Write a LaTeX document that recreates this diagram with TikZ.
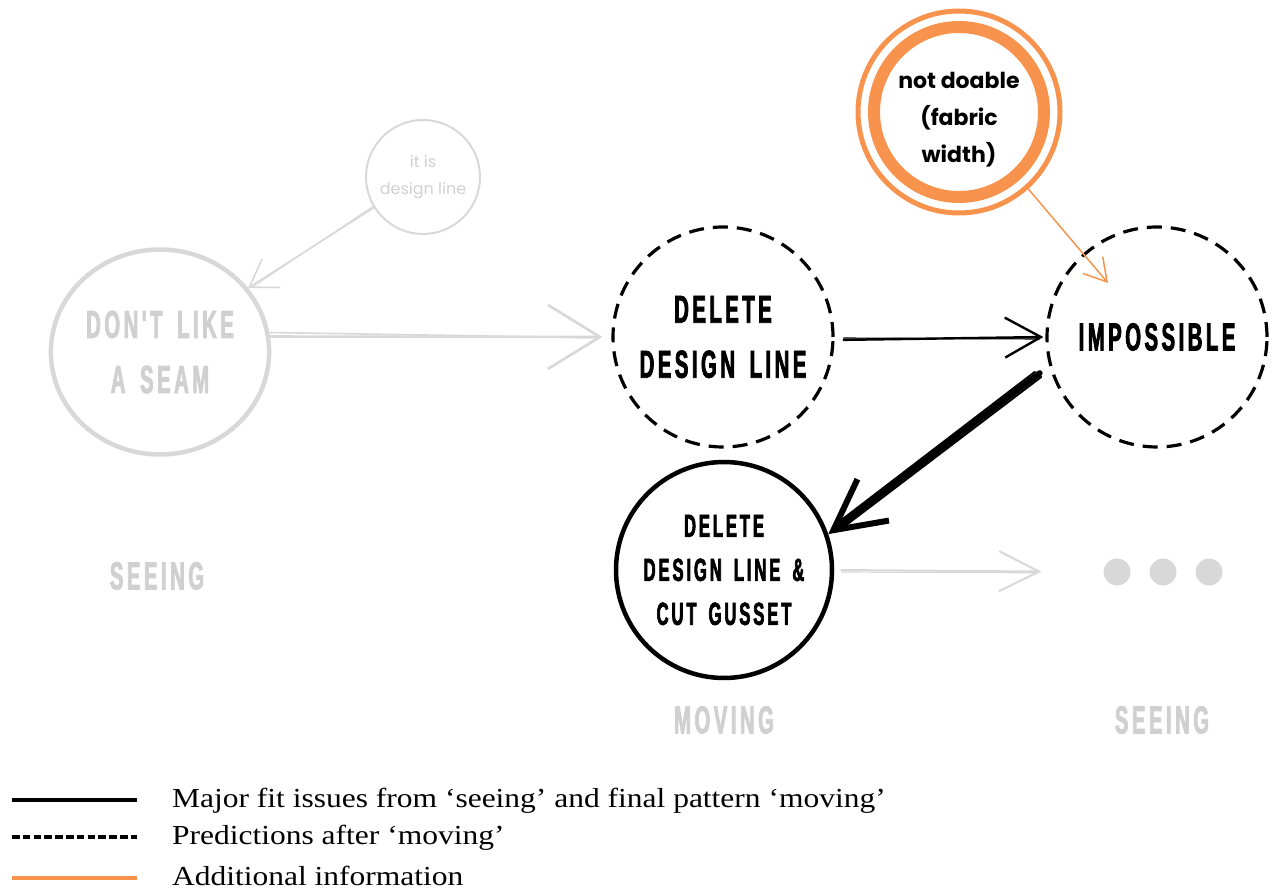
\documentclass[tikz,border=0pt]{standalone}
\usepackage{fontspec}
\setmainfont{Liberation Serif}
\newfontfamily\legendfont{Liberation Serif}[FakeStretch=1.145]
\newfontfamily\bebas{Liberation Sans}[FakeStretch=0.52,LetterSpace=9,FakeBold=2,WordSpace=1.6]
\newfontfamily\popp{Poppins}
\usetikzlibrary{shapes.geometric,arrows.meta}
\definecolor{faint}{RGB}{216,216,216}
\definecolor{fainttext}{RGB}{208,208,208}
\definecolor{accent}{RGB}{247,147,77}

\tikzset{
  bub/.style={circle,minimum size=220pt,inner sep=0pt,align=center},
  caps/.style={font=\bebas\bfseries\fontsize{39}{55}\selectfont},
  smallcaps/.style={font=\bebas\bfseries\fontsize{32}{44}\selectfont},
  dashring/.style={draw=black,line width=3.2pt,dash pattern=on 15pt off 9pt},
  sketch/.style={line cap=round,line join=round},
  barb/.style 2 args={-{Straight Barb[length=#1pt,width=#2pt]}},
  legendtext/.style={anchor=west,font=\legendfont\fontsize{27.5}{30}\selectfont,inner sep=0pt},
}

\begin{document}
\begin{tikzpicture}[x=1pt,y=-1pt]
\useasboundingbox (0,0) rectangle (1272,890);

% ---- nodes ----
\node[ellipse,draw=faint,line width=4.5pt,minimum width=218pt,minimum height=205pt,
      caps,text=fainttext,align=center] (seam) at (160,352) {DON'T LIKE\\A SEAM};
\node[circle,draw=faint,line width=2pt,minimum size=114pt,inner sep=0pt,align=center,
      text=fainttext,font=\popp\fontsize{16}{27}\selectfont] (itis) at (423,177) {it is\\design line};
\node[bub,dashring,caps] (del) at (723,337) {DELETE\\DESIGN LINE};
\node[bub,dashring,caps] (imp) at (1157,337) {IMPOSSIBLE};
\node[bub,draw=black,line width=4.5pt,minimum size=216pt,smallcaps] (gus) at (724,570)
      {DELETE\\DESIGN LINE \&\\CUT GUSSET};

% orange double ring with its note
\node[circle,draw=accent,line width=5pt,minimum size=202pt,inner sep=0pt] (nd) at (959,112) {};
\node[circle,draw=accent,line width=12pt,minimum size=170pt,inner sep=0pt] (ndin) at (nd.center) {};
\node[align=center,font=\popp\bfseries\fontsize{22}{37}\selectfont] (ndtxt) at (959,120)
      {not doable\\(fabric\\width)};

% trailing dots
\node[circle,fill=faint,minimum size=27pt,inner sep=0pt] (dot1) at (1117,572) {};
\node[circle,fill=faint,minimum size=27pt,inner sep=0pt] (dot2) at (1163,572) {};
\node[circle,fill=faint,minimum size=27pt,inner sep=0pt] (dot3) at (1209,572) {};

% phase labels
\node[caps,text=fainttext] (lab1) at (157,576) {SEEING};
\node[caps,text=fainttext] (lab2) at (724,720) {MOVING};
\node[caps,text=fainttext] (lab3) at (1162,720) {SEEING};

\coordinate (ndtip) at (1108,283);

% ---- connectors ----
% it is design line -> don't like a seam
\draw[sketch,faint,line width=1.6pt,barb={26}{34}] (itis.212) -- (seam.36);
\draw[sketch,faint,line width=1pt] ([yshift=2pt]itis.212) -- ([xshift=3pt]seam.36);

% don't like a seam -> delete design line
\draw[sketch,faint,line width=2.6pt,shorten >=9pt,barb={52}{64}] (seam.8) -- (del.west);
\draw[sketch,faint,line width=1.6pt,shorten >=14pt] ([yshift=4pt]seam.8) -- ([yshift=-1pt]del.west);

% delete design line -> impossible
\draw[sketch,black,line width=2.4pt,shorten <=9pt,shorten >=2pt,barb={36}{40}] ([yshift=-3pt]del.east) -- (imp.west);
\draw[sketch,black,line width=1.2pt,shorten <=9pt,shorten >=6pt] ([yshift=-1pt]del.east) -- ([yshift=-2pt]imp.west);

% note -> impossible
\draw[sketch,accent,line width=1.5pt,barb={22}{26}] (nd.-48) -- (ndtip);

% impossible -> delete design line & cut gusset
\draw[sketch,black,line width=6pt,shorten <=12pt,barb={50}{52}] (imp.195) -- (gus.19);
\draw[sketch,black,line width=2pt,shorten <=10pt,shorten >=14pt] ([yshift=-5pt]imp.195) -- ([xshift=6pt]gus.19);
\draw[sketch,black,line width=2pt,shorten <=18pt,shorten >=14pt] ([yshift=5pt]imp.195) -- ([yshift=4pt]gus.19);

% delete design line & cut gusset -> next seeing
\draw[sketch,faint,line width=2pt,shorten <=7pt,shorten >=62pt,barb={40}{40}] (gus.east) -- (dot1.west);
\draw[sketch,faint,line width=1.2pt,shorten <=7pt,shorten >=66pt] ([yshift=-2pt]gus.east) -- ([yshift=-1pt]dot1.west);

% ---- legend ----
\coordinate (l1a) at (12,800);  \coordinate (l1b) at (137,800);
\coordinate (l2a) at (12,837);  \coordinate (l2b) at (137,837);
\coordinate (l3a) at (12,878);  \coordinate (l3b) at (137,878);
\draw[black,line width=4pt] (l1a) -- (l1b);
\draw[black,line width=4pt,dash pattern=on 7.5pt off 3.3pt] (l2a) -- (l2b);
\draw[accent,line width=4pt] (l3a) -- (l3b);
\node[legendtext] (t1) at (172,801) {Major fit issues from ‘seeing’ and final pattern ‘moving’};
\node[legendtext] (t2) at (172,838) {Predictions after ‘moving’};
\node[legendtext] (t3) at (172,876) {Additional information};
\end{tikzpicture}
\end{document}
